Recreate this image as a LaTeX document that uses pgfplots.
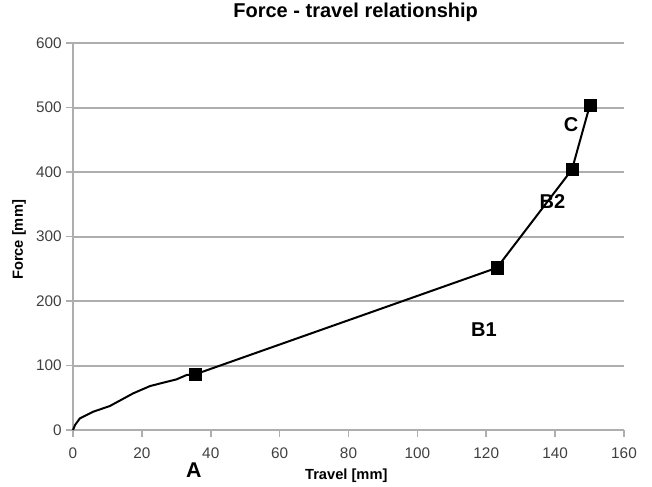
\documentclass[border=0pt]{standalone}
\usepackage{pgfplots}
\pgfplotsset{compat=1.18}
\usepackage{fontspec}
\setmainfont{Liberation Sans}
\definecolor{gridgray}{HTML}{AEAEAE}
\definecolor{ticktext}{HTML}{404040}

\begin{document}
\begin{tikzpicture}
    % page size: 652x486 px at 0.75pt per px, plot area origin at (0,0)
    \useasboundingbox (-54.75pt,-42pt) rectangle (434.25pt,322.5pt);
    \begin{axis}[
        at={(0,0)}, anchor=south west,
        scale only axis,
        width=413.25pt, height=290.25pt,
        xmin=0, xmax=160, ymin=0, ymax=600,
        xtick={0,20,...,160},
        ytick={0,100,...,600},
        axis x line*=bottom,
        axis y line*=left,
        axis line style={gridgray, line width=1.5pt, -},
        ymajorgrids,
        major grid style={gridgray, line width=1.5pt},
        tick align=outside,
        major tick length=5pt,
        tick style={gridgray, line width=1.3pt},
        ticklabel style={font=\fontsize{11.5}{13}\selectfont, text=ticktext},
        /pgf/number format/assume math mode=true,
        xticklabel style={yshift=-5pt},
        title={\textbf{Force - travel relationship}},
        title style={font=\fontsize{15}{17}\selectfont, at={(axis description cs:0.513,1)}, anchor=center, yshift=17pt},
        xlabel={\textbf{Travel [mm]}},
        xlabel style={font=\fontsize{11}{13}\selectfont, at={(axis description cs:0.496,0)}, anchor=center, yshift=-34.5pt},
        ylabel={\textbf{Force [mm]}},
        ylabel style={font=\fontsize{11}{13}\selectfont, at={(axis description cs:-0.098,0.491)}, anchor=center},
        clip=false,
    ]
    % measured curve
    \addplot [black, line width=1.5pt, no marks] coordinates {
      (0,0) (0.6,7.8) (2,18.1) (5.9,28.4) (10.7,37.2) (17.5,56.9) (22.4,68.2)
      (30.1,78.6) (33,85.3) (35.6,86.5) (123.1,251.5) (144.9,403.9) (150.1,503.9)
    };
    % characteristic points
    \addplot [only marks, mark=square*, mark size=4.6pt, black] coordinates {
      (35.6,86.5) (123.1,251.5) (144.9,403.9) (150.1,503.9)
    };
    \node [font=\fontsize{16}{18}\selectfont\bfseries] at (axis cs:35.1,-62) {A};
    \node [font=\fontsize{15}{17}\selectfont\bfseries] at (axis cs:119.3,155.8) {B1};
    \node [font=\fontsize{15}{17}\selectfont\bfseries] at (axis cs:139.2,353.5) {B2};
    \node [font=\fontsize{15}{17}\selectfont\bfseries] at (axis cs:144.6,472.9) {C};
    \end{axis}
\end{tikzpicture}
\end{document}
